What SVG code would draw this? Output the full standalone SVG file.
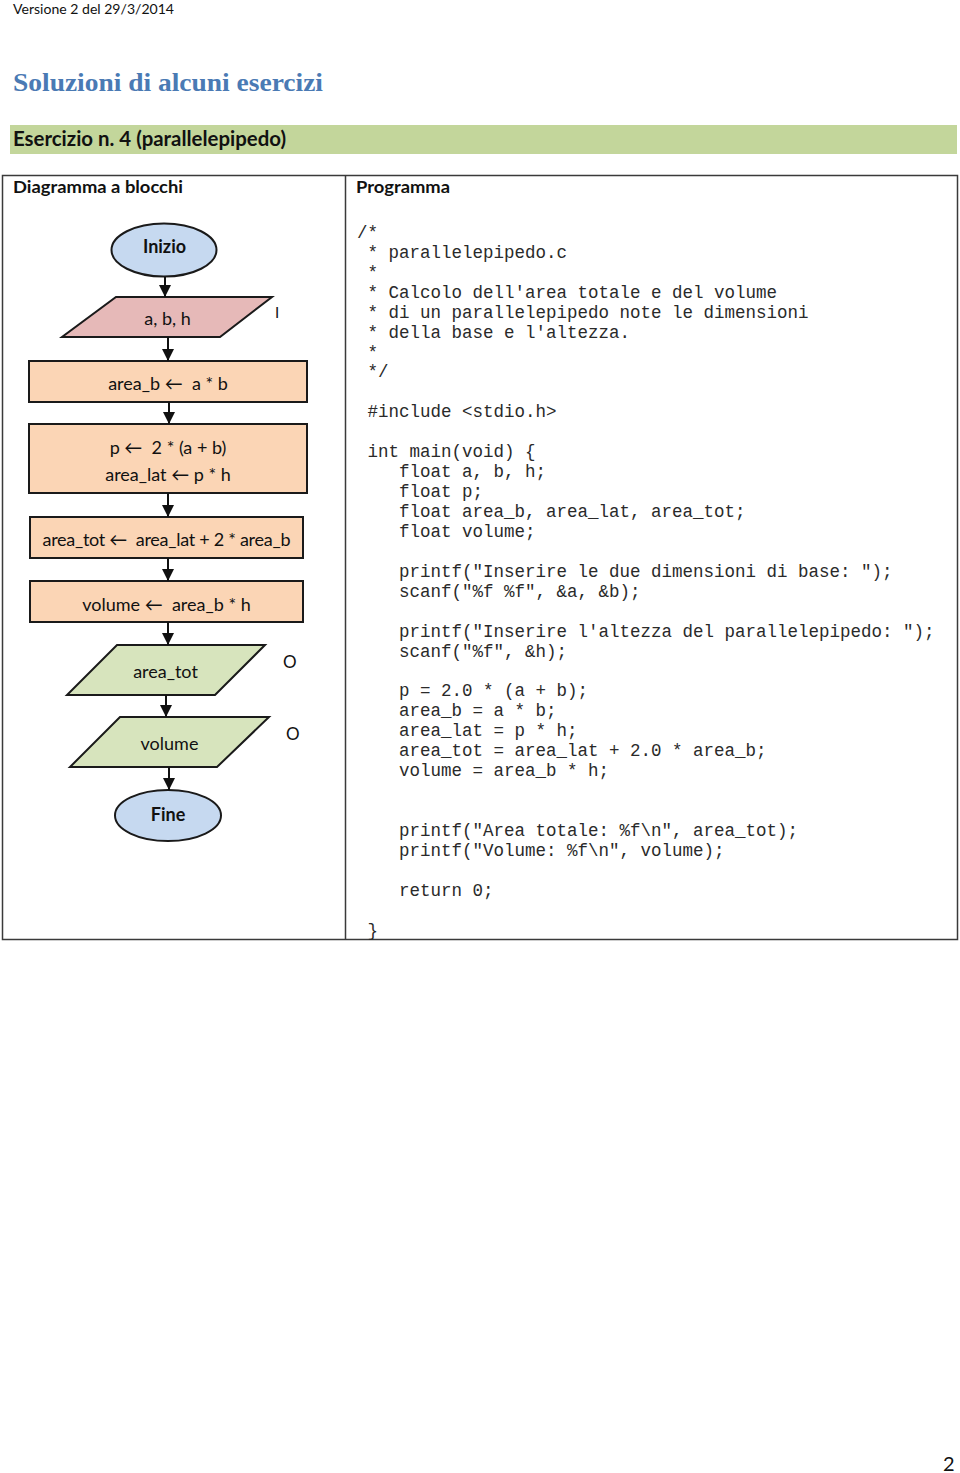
<svg xmlns="http://www.w3.org/2000/svg" width="960" height="1473" viewBox="0 0 960 1473">
<style>
.t{font-family:Lato,"Open Sans","DejaVu Sans",sans-serif;fill:#111}
.fc{font-family:Lato,"DejaVu Sans",sans-serif;font-size:18px;fill:#111;text-anchor:middle}
.b{font-weight:bold}
.code{font-family:"Liberation Mono","DejaVu Sans Mono",monospace;font-size:17.5px;fill:#2a2a2a}
.shape{stroke:#1a1a1a;stroke-width:2}
.conn line{stroke:#111;stroke-width:2}
.tbl{stroke:#3a3a3a;stroke-width:1.5;fill:none}
</style>
<defs>
<marker id="ah" markerWidth="12" markerHeight="12" refX="10" refY="5" orient="auto" markerUnits="userSpaceOnUse" viewBox="0 0 10 10">
<path d="M0,0 L10,5 L0,10 Z" fill="#111"/>
</marker>
</defs>
<rect width="960" height="1473" fill="#fff"/>
<text class="t" x="13" y="13.5" font-size="14" textLength="161" lengthAdjust="spacingAndGlyphs">Versione 2 del 29/3/2014</text>
<text x="13" y="91" font-family="'Liberation Serif',serif" font-weight="bold" font-size="25" fill="#4a7ab4" textLength="310" lengthAdjust="spacingAndGlyphs">Soluzioni di alcuni esercizi</text>
<rect x="10" y="125" width="947" height="29" fill="#c3d69b"/>
<text class="t b" x="13" y="146" font-size="20" textLength="273" lengthAdjust="spacingAndGlyphs">Esercizio n. 4 (parallelepipedo)</text>
<g id="table">
<rect class="tbl" x="2.5" y="175.5" width="955" height="764"/>
<line class="tbl" x1="345.5" y1="175.5" x2="345.5" y2="939.5"/>
<text class="t b" x="13" y="193" font-size="17" textLength="170" lengthAdjust="spacingAndGlyphs">Diagramma a blocchi</text>
<text class="t b" x="356" y="193" font-size="17" textLength="94" lengthAdjust="spacingAndGlyphs">Programma</text>
</g>
<g id="start">
<ellipse class="shape" cx="164" cy="250" rx="52.5" ry="26.5" fill="#c6d9f0"/>
<text class="fc b" x="164.5" y="253">Inizio</text>
</g>
<g id="input">
<polygon class="shape" points="116,297 272,297 220,337 62,337" fill="#e6b9b8"/>
<text class="fc" x="167.5" y="325">a, b, h</text>
<text class="t" x="275" y="318" font-size="15">I</text>
</g>
<g id="calc_area_b">
<rect class="shape" x="29" y="361" width="278" height="41" fill="#fbd5b5"/>
<text class="fc" x="168" y="390" xml:space="preserve">area_b ←  a * b</text>
</g>
<g id="calc_p">
<rect class="shape" x="29" y="424" width="278" height="69" fill="#fbd5b5"/>
<text class="fc" x="168" y="454" xml:space="preserve">p ←  2 * (a + b)</text>
<text class="fc" x="168" y="481" xml:space="preserve">area_lat ← p * h</text>
</g>
<g id="calc_area_tot">
<rect class="shape" x="30" y="517" width="273" height="41" fill="#fbd5b5"/>
<text class="fc" x="166.5" y="546" xml:space="preserve" textLength="248" lengthAdjust="spacing">area_tot ←  area_lat + 2 * area_b</text>
</g>
<g id="calc_volume">
<rect class="shape" x="30" y="581" width="273" height="41" fill="#fbd5b5"/>
<text class="fc" x="166.5" y="611" xml:space="preserve">volume ←  area_b * h</text>
</g>
<g id="out_area_tot">
<polygon class="shape" points="117,645 265,645 215,695 67,695" fill="#d7e4bd"/>
<text class="fc" x="165.5" y="678">area_tot</text>
<text class="t" x="283" y="668" font-size="17">O</text>
</g>
<g id="out_volume">
<polygon class="shape" points="120,717 269,717 217,767 70,767" fill="#d7e4bd"/>
<text class="fc" x="169.5" y="750">volume</text>
<text class="t" x="286" y="740" font-size="17">O</text>
</g>
<g id="end">
<ellipse class="shape" cx="168" cy="815.5" rx="53" ry="25.5" fill="#c6d9f0"/>
<text class="fc b" x="168" y="821">Fine</text>
</g>
<g class="conn" id="connectors">
<line x1="165" y1="277" x2="165" y2="297" marker-end="url(#ah)"/>
<line x1="168" y1="337" x2="168" y2="361" marker-end="url(#ah)"/>
<line x1="169" y1="402" x2="169" y2="424" marker-end="url(#ah)"/>
<line x1="168" y1="493" x2="168" y2="517" marker-end="url(#ah)"/>
<line x1="168" y1="558" x2="168" y2="581" marker-end="url(#ah)"/>
<line x1="168" y1="622" x2="168" y2="645" marker-end="url(#ah)"/>
<line x1="166" y1="695" x2="166" y2="717" marker-end="url(#ah)"/>
<line x1="169" y1="767" x2="169" y2="790" marker-end="url(#ah)"/>
</g>
<g id="code" class="code">
<text x="357" y="238">/*</text>
<text x="367.5" y="258">* parallelepipedo.c</text>
<text x="367.5" y="278">*</text>
<text x="367.5" y="298">* Calcolo dell'area totale e del volume</text>
<text x="367.5" y="318">* di un parallelepipedo note le dimensioni</text>
<text x="367.5" y="338">* della base e l'altezza.</text>
<text x="367.5" y="358">*</text>
<text x="367.5" y="377">*/</text>
<text x="367.5" y="417">#include &lt;stdio.h&gt;</text>
<text x="367.5" y="457">int main(void) {</text>
<text x="399" y="477">float a, b, h;</text>
<text x="399" y="497">float p;</text>
<text x="399" y="517">float area_b, area_lat, area_tot;</text>
<text x="399" y="537">float volume;</text>
<text x="399" y="577">printf("Inserire le due dimensioni di base: ");</text>
<text x="399" y="597">scanf("%f %f", &amp;a, &amp;b);</text>
<text x="399" y="637">printf("Inserire l'altezza del parallelepipedo: ");</text>
<text x="399" y="657">scanf("%f", &amp;h);</text>
<text x="399" y="696">p = 2.0 * (a + b);</text>
<text x="399" y="716">area_b = a * b;</text>
<text x="399" y="736">area_lat = p * h;</text>
<text x="399" y="756">area_tot = area_lat + 2.0 * area_b;</text>
<text x="399" y="776">volume = area_b * h;</text>
<text x="399" y="836">printf("Area totale: %f\n", area_tot);</text>
<text x="399" y="856">printf("Volume: %f\n", volume);</text>
<text x="399" y="896">return 0;</text>
<text x="367.5" y="936">}</text>
</g>
<text class="t" x="943" y="1471" font-size="20">2</text>
</svg>
